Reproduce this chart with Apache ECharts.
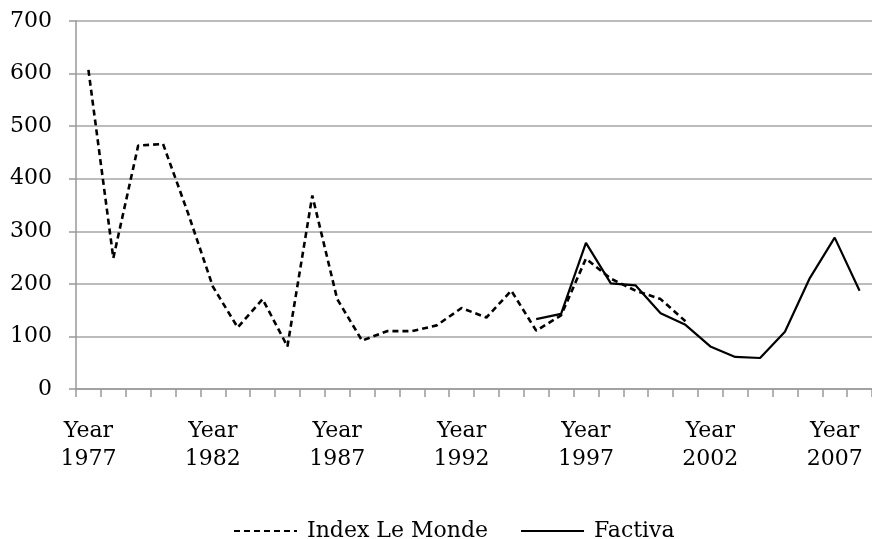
<!DOCTYPE html>
<html><head><meta charset="utf-8">
<script src="https://cdn.jsdelivr.net/npm/echarts@6/dist/echarts.min.js"></script>
<style>html,body{margin:0;padding:0;background:#fff}#c{width:872px;height:539px}</style>
</head><body><div id="c"></div>
<script>
const years = [];
for (let y = 1977; y <= 2008; y++) years.push(String(y));
const leMonde = [607,249,463,466,335,195,117,171,81,368,171,92,110,110,121,154,136,187,111,140,248,210,187,171,129,null,null,null,null,null,null,null];
const factiva = [null,null,null,null,null,null,null,null,null,null,null,null,null,null,null,null,null,null,133,143,278,201,197,144,122,81,61,59,109,211,288,187];
const yTicks = [0,100,200,300,400,500,600,700];
const font = '"DejaVu Serif", "Liberation Serif", serif';
const chart = echarts.init(document.getElementById('c'));
chart.setOption({
  animation: false,
  textStyle: {fontFamily: font},
  grid: {left: 76, top: 21, width: 805, height: 368},
  legend: {
    bottom: -8, left: 228, itemGap: 32, itemWidth: 63, itemHeight: 4,
    itemStyle: {opacity: 0},
    textStyle: {fontFamily: font, fontSize: 22, color: '#000', padding: [0, 0, 0, 5]},
    data: ['Index Le Monde', 'Factiva']
  },
  xAxis: {
    type: 'category', data: years, boundaryGap: true,
    axisLine: {lineStyle: {color: '#999', width: 1.5}},
    axisTick: {show: true, interval: 0, length: 8, lineStyle: {color: '#999', width: 1.5}},
    axisLabel: {
      interval: 4, margin: 28, color: '#000', fontSize: 22, fontFamily: font, lineHeight: 28,
      formatter: v => 'Year\n' + v
    }
  },
  yAxis: {
    type: 'value', min: yTicks[0], max: yTicks[yTicks.length - 1], interval: 100,
    axisLine: {show: true, lineStyle: {color: '#999', width: 1.5}},
    axisTick: {show: true, length: 7, lineStyle: {color: '#999', width: 1.5}},
    splitLine: {lineStyle: {color: '#a6a6a6', width: 1.5}},
    axisLabel: {margin: 24, color: '#000', fontSize: 22, fontFamily: font}
  },
  series: [
    {name: 'Index Le Monde', type: 'line', data: leMonde, showSymbol: false, symbol: 'none',
     connectNulls: false, color: '#000', itemStyle: {color: '#000'},
     lineStyle: {color: '#000', width: 2.6, type: [6, 4]}},
    {name: 'Factiva', type: 'line', data: factiva, showSymbol: false, symbol: 'none',
     color: '#000', itemStyle: {color: '#000'}, lineStyle: {color: '#000', width: 2.2}}
  ]
});
</script></body></html>
